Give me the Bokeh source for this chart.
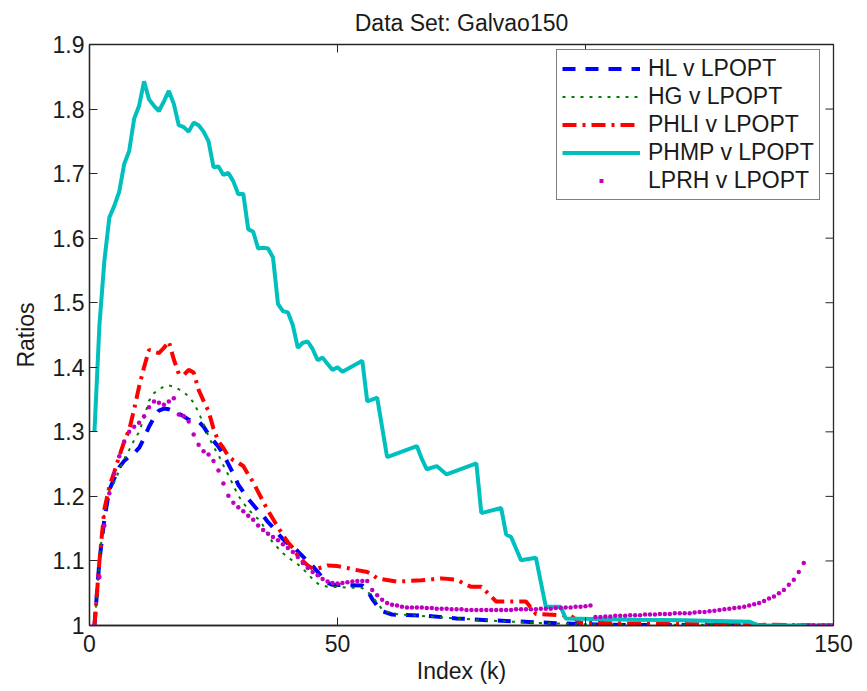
import math
from bokeh.plotting import figure
from bokeh.models import Range1d, FixedTicker, Legend, LegendItem, CustomJSTickFormatter
from bokeh.embed import file_html
from bokeh.resources import INLINE

# ---------------- data ----------------
title_text = "Data Set: Galvao150"
x_label = "Index (k)"
y_label = "Ratios"
x_ticks = [0, 50, 100, 150]
y_ticks = [1.0, 1.1, 1.2, 1.3, 1.4, 1.5, 1.6, 1.7, 1.8, 1.9]
series_names = ["HL v LPOPT", "HG v LPOPT", "PHLI v LPOPT", "PHMP v LPOPT", "LPRH v LPOPT"]

hl_x = [1, 2, 3, 4, 5, 6, 7, 8, 9, 10, 11, 12, 13, 14, 15, 16, 17, 18, 19, 20, 21, 22, 23, 24, 25,
        26, 27, 28, 29, 30, 31, 32, 33, 34, 35, 36, 37, 38, 39, 40, 41, 42, 43, 44, 45, 46, 47, 48,
        49, 55, 56, 57, 58, 59, 61, 68, 74, 81, 90, 96, 105, 150]
hl_y = [1.0, 1.10, 1.165, 1.21, 1.228, 1.245, 1.255, 1.262, 1.267, 1.275, 1.29, 1.308, 1.322,
        1.333, 1.336, 1.335, 1.332, 1.328, 1.324, 1.319, 1.317, 1.316, 1.308, 1.296, 1.286, 1.277,
        1.265, 1.25, 1.235, 1.218, 1.207, 1.196, 1.187, 1.178, 1.17, 1.16, 1.152, 1.142, 1.134,
        1.127, 1.122, 1.115, 1.107, 1.099, 1.092, 1.083, 1.074, 1.066, 1.063, 1.062, 1.055, 1.041,
        1.031, 1.022, 1.017, 1.015, 1.011, 1.008, 1.005, 1.003, 1.001, 1.0]

hg_x = [1, 2, 3, 4, 5, 6, 7, 8, 9, 10, 11, 12, 13, 14, 15, 16, 17, 18, 19, 20, 21, 22, 23, 24, 25,
        26, 27, 28, 29, 30, 31, 32, 33, 34, 35, 36, 37, 38, 39, 40, 41, 42, 43, 44, 45, 46, 47, 48,
        55, 56, 57, 58, 59, 61, 70, 80, 90, 100, 150]
hg_y = [1.0, 1.10, 1.175, 1.21, 1.222, 1.24, 1.258, 1.272, 1.287, 1.30, 1.322, 1.348, 1.36, 1.366,
        1.37, 1.372, 1.37, 1.366, 1.361, 1.355, 1.345, 1.33, 1.312, 1.293, 1.277, 1.264, 1.248,
        1.233, 1.217, 1.201, 1.19, 1.18, 1.172, 1.165, 1.155, 1.14, 1.128, 1.12, 1.112, 1.106, 1.10,
        1.095, 1.088, 1.08, 1.072, 1.065, 1.062, 1.06, 1.058, 1.053, 1.045, 1.035, 1.025, 1.018,
        1.013, 1.008, 1.004, 1.002, 1.0]

phli_x = [1, 2, 3, 4, 5, 6, 7, 8, 9, 10, 11, 12, 13, 14, 15, 16, 17, 18, 19, 20, 21, 22, 23, 24,
          25, 26, 27, 28, 29, 30, 31, 32, 33, 34, 35, 36, 37, 38, 39, 40, 41, 42, 43, 44, 45, 46,
          48, 50, 52, 53, 56, 57, 58, 62, 67, 71, 74, 76, 77, 79, 81, 82, 88, 90, 97, 99, 150]
phli_y = [1.0, 1.10, 1.18, 1.215, 1.238, 1.262, 1.285, 1.303, 1.335, 1.37, 1.40, 1.427, 1.424,
          1.422, 1.43, 1.44, 1.412, 1.39, 1.388, 1.396, 1.392, 1.365, 1.348, 1.332, 1.305, 1.285,
          1.275, 1.262, 1.256, 1.252, 1.247, 1.234, 1.222, 1.207, 1.192, 1.178, 1.165, 1.152, 1.14,
          1.129, 1.12, 1.108, 1.10, 1.093, 1.088, 1.088, 1.093, 1.092, 1.089, 1.087, 1.083, 1.079,
          1.073, 1.068, 1.070, 1.073, 1.071, 1.063, 1.060, 1.060, 1.045, 1.037, 1.037, 1.018, 1.015,
          1.004, 1.0]

phmp_x = [1, 2, 3, 4, 5, 6, 7, 8, 9, 10, 11, 12, 13, 14, 15, 16, 17, 18, 19, 20, 21, 22, 23, 24,
          25, 26, 27, 28, 29, 30, 31, 32, 33, 34, 35, 36, 37, 38, 39, 40, 41, 42, 43, 44, 45, 46,
          47, 48, 49, 50, 51, 55, 56, 58, 60, 66, 67, 68, 70, 72, 78, 79, 83, 84, 85, 87, 90, 92,
          95, 96, 110, 120, 133, 135, 150]
phmp_y = [1.30, 1.465, 1.565, 1.632, 1.65, 1.672, 1.715, 1.735, 1.785, 1.805, 1.843, 1.815, 1.805,
          1.797, 1.812, 1.828, 1.808, 1.775, 1.772, 1.765, 1.779, 1.775, 1.765, 1.75, 1.71, 1.711,
          1.698, 1.701, 1.688, 1.668, 1.669, 1.614, 1.61, 1.584, 1.585, 1.584, 1.57, 1.498, 1.487,
          1.485, 1.465, 1.43, 1.438, 1.44, 1.428, 1.411, 1.415, 1.405, 1.396, 1.40, 1.393, 1.41,
          1.347, 1.353, 1.261, 1.278, 1.258, 1.242, 1.247, 1.234, 1.251, 1.174, 1.182, 1.141, 1.137,
          1.101, 1.105, 1.029, 1.029, 1.011, 1.009, 1.008, 1.006, 1.0, 1.0]

lprh_x = list(range(1, 151))
lprh_y = [1.000, 1.075, 1.155, 1.205, 1.235, 1.262, 1.285, 1.300, 1.308, 1.314,
          1.324, 1.338, 1.347, 1.345, 1.342, 1.347, 1.352, 1.327, 1.324, 1.316,
          1.296, 1.280, 1.270, 1.265, 1.255, 1.240, 1.220, 1.201, 1.190, 1.183,
          1.177, 1.170, 1.164, 1.155, 1.148, 1.142, 1.137, 1.132, 1.126, 1.120,
          1.114, 1.106, 1.097, 1.089, 1.083, 1.078, 1.072, 1.068, 1.066, 1.065,
          1.066, 1.067, 1.068, 1.069, 1.069, 1.069, 1.055, 1.047, 1.040, 1.035,
          1.032, 1.031, 1.029, 1.028, 1.028, 1.028, 1.028, 1.027, 1.027, 1.026,
          1.026, 1.026, 1.025, 1.025, 1.025, 1.024, 1.024, 1.024, 1.024, 1.024,
          1.024, 1.024, 1.024, 1.024, 1.024, 1.025, 1.025, 1.025, 1.025, 1.025,
          1.026, 1.026, 1.026, 1.027, 1.027, 1.028, 1.028, 1.029, 1.029, 1.030,
          1.031, 1.013, 1.013, 1.014, 1.014, 1.015, 1.015, 1.015, 1.016, 1.016,
          1.016, 1.017, 1.017, 1.017, 1.018, 1.018, 1.018, 1.019, 1.019, 1.019,
          1.019, 1.020, 1.021, 1.021, 1.022, 1.023, 1.024, 1.025, 1.026, 1.027,
          1.028, 1.029, 1.031, 1.033, 1.035, 1.038, 1.042, 1.045, 1.050, 1.055,
          1.063, 1.071, 1.083, 1.097, 1.000, 1.000, 1.000, 1.000, 1.000, 1.000]

# ---------------- styling ----------------
FONT = "Liberation Sans"
TXT = "#1a1a1a"
AX = "#262626"
FS = "23px"
C_HL, C_HG, C_PHLI, C_PHMP, C_LPRH = "#0000ff", "#008000", "#ff0000", "#00bfbf", "#bf00bf"

W, H = 860, 686
p = figure(width=W, height=H, output_backend="svg", toolbar_location=None,
           x_range=Range1d(x_ticks[0], x_ticks[-1]), y_range=Range1d(y_ticks[0], y_ticks[-1]),
           min_border_left=89, min_border_right=W - 833, min_border_top=44,
           min_border_bottom=H - 629,
           background_fill_color="white", border_fill_color="white")

p.grid.visible = False
p.outline_line_color = AX
p.outline_line_width = 1.3

p.title.text = title_text
p.title.align = "center"
p.title.vertical_align = "top"
p.title.text_font = FONT
p.title.text_font_size = FS
p.title.text_font_style = "normal"
p.title.text_color = TXT
p.title.standoff = 13


def style_axis(ax):
    ax.axis_line_color = AX
    ax.axis_line_width = 1.3
    ax.major_tick_line_color = AX
    ax.major_tick_line_width = 1
    ax.major_tick_in = 8
    ax.major_tick_out = 0
    ax.minor_tick_line_color = None
    ax.major_label_text_font = FONT
    ax.major_label_text_color = TXT
    ax.major_label_text_font_size = FS
    ax.axis_label_text_font = FONT
    ax.axis_label_text_font_size = FS
    ax.axis_label_text_font_style = "normal"
    ax.axis_label_text_color = TXT


xa = p.xaxis[0]
xa.ticker = FixedTicker(ticks=x_ticks)
style_axis(xa)
xa.axis_label = x_label
xa.major_label_standoff = 9
xa.axis_label_standoff = 3

ya = p.yaxis[0]
ya.ticker = FixedTicker(ticks=y_ticks)
ya.formatter = CustomJSTickFormatter(code="return (Math.round(tick*10)/10).toString();")
style_axis(ya)
ya.axis_label = y_label
ya.major_label_standoff = 5
ya.axis_label_standoff = 11

# inward ticks on the top and right edges of the box
p.ray(x=x_ticks, y=[y_ticks[-1]] * len(x_ticks), length=8, length_units="screen",
      angle=-math.pi / 2, line_color=AX, line_width=1)
p.ray(x=[x_ticks[-1]] * len(y_ticks), y=y_ticks, length=8, length_units="screen",
      angle=math.pi, line_color=AX, line_width=1)

# ---------------- series ----------------
r_hl = p.line(hl_x, hl_y, line_color=C_HL, line_width=4, line_dash="13 10")
r_hg = p.line(hg_x, hg_y, line_color=C_HG, line_width=2, line_dash="3 6")
r_phli = p.line(phli_x, phli_y, line_color=C_PHLI, line_width=4, line_dash="14 6 3 6")
r_phmp = p.line(phmp_x, phmp_y, line_color=C_PHMP, line_width=4)
r_lprh = p.scatter(lprh_x, lprh_y, marker="circle", size=4.5, fill_color=C_LPRH,
                   line_color=None)
# legend swatch for LPRH: one small dot, as in the reference legend (draws nothing in the plot)
nan = float("nan")
r_lprh_key = p.line(x=[nan], y=[nan], line_color=C_LPRH, line_width=4, line_cap="butt",
                    line_dash="0 37 4 300")

legend = Legend(items=[LegendItem(label=series_names[0], renderers=[r_hl]),
                       LegendItem(label=series_names[1], renderers=[r_hg]),
                       LegendItem(label=series_names[2], renderers=[r_phli]),
                       LegendItem(label=series_names[3], renderers=[r_phmp]),
                       LegendItem(label=series_names[4], renderers=[r_lprh_key])],
                location=(467, 425))
legend.label_text_font = FONT
legend.label_text_font_size = FS
legend.label_text_color = TXT
legend.border_line_color = "black"
legend.border_line_width = 1
legend.background_fill_color = "white"
legend.background_fill_alpha = 1
legend.padding = 5
legend.spacing = 1
legend.glyph_width = 78
legend.glyph_height = 27
legend.label_height = 27
legend.label_standoff = 8
legend.margin = 0
p.add_layout(legend)

open("out.html", "w").write(file_html(p, INLINE))
